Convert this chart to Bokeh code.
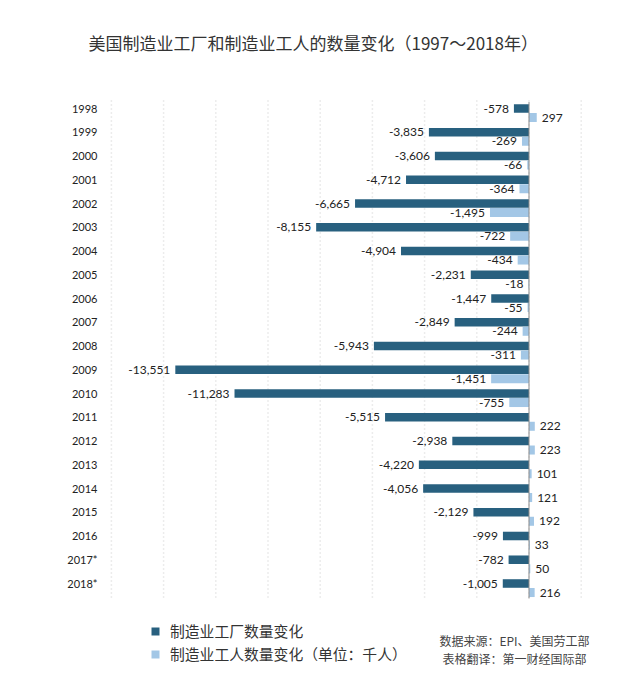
from bokeh.plotting import figure
from bokeh.models import Range1d, ColumnDataSource, Label, Legend, LegendItem
from bokeh.core.properties import value
from bokeh.embed import file_html
from bokeh.resources import INLINE

years = ["1998", "1999", "2000", "2001", "2002", "2003", "2004", "2005", "2006", "2007",
         "2008", "2009", "2010", "2011", "2012", "2013", "2014", "2015", "2016", "2017*", "2018*"]
plants = [-578, -3835, -3606, -4712, -6665, -8155, -4904, -2231, -1447, -2849,
          -5943, -13551, -11283, -5515, -2938, -4220, -4056, -2129, -999, -782, -1005]
workers = [297, -269, -66, -364, -1495, -722, -434, -18, -55, -244,
           -311, -1451, -755, 222, 223, 101, 121, 192, 33, 50, 216]

title = "美国制造业工厂和制造业工人的数量变化（1997～2018年）"
series_names = ["制造业工厂数量变化", "制造业工人数量变化（单位：千人）"]
source_lines = ["数据来源：EPI、美国劳工部", "表格翻译：第一财经国际部"]

DARK = "#28607f"
LIGHT = "#a3c7e6"
CJK = "Noto Sans CJK SC"
NUM = "Lato"

W, H = 624, 667
K = 0.0261          # px per unit
ZERO_PX = 528.5
X0 = -ZERO_PX / K
X1 = X0 + W / K
ROW = 23.75
ROW0_PX = 108
Y_TOP = -ROW0_PX / ROW
Y_BOT = (H - ROW0_PX) / ROW

p = figure(width=W, height=H, output_backend="svg", toolbar_location=None,
           x_range=Range1d(X0, X1), y_range=Range1d(Y_BOT, Y_TOP),
           x_axis_location=None, y_axis_location=None, min_border=0,
           outline_line_color=None, background_fill_color="white",
           border_fill_color="white")
p.xgrid.visible = False
p.ygrid.visible = False

n = len(years)
rows = list(range(n))
OFF = 0.38

# dotted vertical gridlines
grid_vals = list(range(-16000, 4000, 2000))
p.segment(x0=grid_vals, x1=grid_vals, y0=[-0.34] * len(grid_vals), y1=[20.63] * len(grid_vals),
          line_color="#d9d9d9", line_width=1.5, line_dash="1 3")

src = ColumnDataSource(dict(
    y=rows,
    y2=[r + OFF for r in rows],
    year=years,
    xlab=[X0] * n,
    plants=plants,
    workers=workers,
    plab=[f"{v:,}" for v in plants],
    wlab=[f"{v:,}" for v in workers],
    palign=["right" if v < 0 else "left" for v in plants],
    poff=[-5 if v < 0 else 5 for v in plants],
    walign=["right" if v < 0 else "left" for v in workers],
    woff=[-5 if v < 0 else 5 for v in workers],
))

r1 = p.hbar(y="y", left=0, right="plants", height=0.36, source=src,
            fill_color=DARK, line_color=None)
r2 = p.hbar(y="y2", left=0, right="workers", height=0.38, source=src,
            fill_color=LIGHT, line_color=None)

# zero line
p.segment(x0=[0], x1=[0], y0=[-0.27], y1=[20.63], line_color="#8a8a8a", line_width=1)

# year labels
p.text(x="xlab", y="y", text="year", source=src, x_offset=97,
       text_align="right", text_baseline="middle", text_font=value(NUM),
       text_font_size="11px", text_color="#222222")

# value labels
p.text(x="plants", y="y", text="plab", source=src, x_offset="poff",
       text_align="palign", text_baseline="middle", text_font=value(NUM),
       text_font_size="12px", text_color="#222222")
p.text(x="workers", y="y2", text="wlab", source=src, x_offset="woff",
       text_align="walign", text_baseline="middle", text_font=value(NUM),
       text_font_size="12px", text_color="#222222")

# title
p.add_layout(Label(x=88, y=H - 42, x_units="screen", y_units="screen", text=title,
                   text_font=CJK, text_font_size="17px", text_color="#333333",
                   text_baseline="middle"))

# legend
legend = Legend(items=[LegendItem(label=series_names[0], renderers=[r1]),
                       LegendItem(label=series_names[1], renderers=[r2])],
                location=(150, 3), orientation="vertical",
                border_line_color=None, background_fill_alpha=0,
                label_text_font=CJK, label_text_font_size="14.8px",
                label_text_color="#333333", glyph_width=10, glyph_height=10,
                label_height=20, spacing=2, padding=0, margin=0, label_standoff=10)
p.add_layout(legend)

# source notes
for i, t in enumerate(source_lines):
    p.add_layout(Label(x=514, y=H - 640 - 18 * i, x_units="screen", y_units="screen", text=t,
                       text_font=CJK, text_font_size="12px", text_color="#444444",
                       text_align="center", text_baseline="middle"))

open("out.html", "w").write(file_html(p, INLINE))
